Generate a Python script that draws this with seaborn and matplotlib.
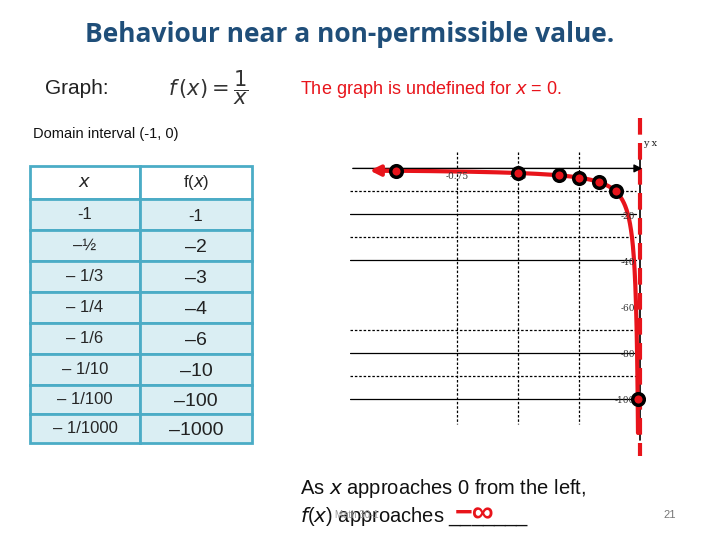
import numpy as np
import pandas as pd
import seaborn as sns
import matplotlib.pyplot as plt
from matplotlib.patches import Rectangle

sns.set_theme(style="white")
plt.rcParams['font.family'] = ['Liberation Sans', 'DejaVu Sans']

x_labels = ["-1", "–½", "– 1/3", "– 1/4", "– 1/6", "– 1/10", "– 1/100", "– 1/1000"]
fx_labels = ["-1", "–2", "–3", "–4", "–6", "–10", "–100", "–1000"]
pt_x = [-1, -1/2, -1/3, -1/4, -1/6, -1/10, -1/100]
pt_y = [-1, -2, -3, -4, -6, -10, -100]
x_ticks = [-1, -0.75, -0.5, -0.25]
y_ticks = [-20, -40, -60, -80, -100]

W, H = 720, 540
fig = plt.figure(figsize=(7.2, 5.4), dpi=100)
fig.patch.set_facecolor("white")

def fx(px): return px / W
def fy(py): return 1 - py / H

fig.text(fx(350), fy(35), "Behaviour near a non-permissible value.", ha="center", va="center",
         fontsize=19, color="#1F4E79", fontweight="bold", family=["Open Sans", "DejaVu Sans"])
fig.text(fx(45), fy(88), "Graph:", ha="left", va="center", fontsize=15, color="#222222")
fig.text(fx(168), fy(88), r"$f\,(x) = \dfrac{1}{x}$", ha="left", va="center", fontsize=15, color="#333333")
fig.text(fx(300), fy(90), "The graph is undefined for $\\it{x}$ = 0.", ha="left", va="center",
         fontsize=13, color="#E8141B")
fig.text(fx(33), fy(134), "Domain interval (-1, 0)", ha="left", va="center", fontsize=10.5, color="#111111")
fig.text(fx(300), fy(488), "As $\\it{x}$ approaches 0 from the left,", ha="left", va="center", fontsize=14.5, color="#111111")
fig.text(fx(300), fy(517), "$\\it{f}$($\\it{x}$) approaches _______", ha="left", va="center", fontsize=14.5, color="#111111")
fig.text(fx(455), fy(514), "−∞", ha="left", va="center", fontsize=22, color="#E8141B", fontweight="bold")
fig.text(fx(335), fy(515), "Math 30-1", ha="left", va="center", fontsize=7, color="#999999")
fig.text(fx(670), fy(515), "21", ha="center", va="center", fontsize=8, color="#777777")

# table
tab = fig.add_axes([0, 0, 1, 1])
tab.set_xlim(0, W); tab.set_ylim(H, 0); tab.axis("off")
rows = [166, 199, 230, 261, 292, 323, 354, 385, 414, 443]
cols = [30, 140, 252]
for i in range(len(rows) - 1):
    for j in range(2):
        fc = "white" if i == 0 else "#DAEEF3"
        tab.add_patch(Rectangle((cols[j], rows[i]), cols[j+1]-cols[j], rows[i+1]-rows[i],
                                facecolor=fc, edgecolor="#4BACC6", lw=2))
    yc = (rows[i] + rows[i+1]) / 2
    if i == 0:
        tab.text(85, yc, "$\\it{x}$", ha="center", va="center", fontsize=13)
        tab.text(196, yc, "f($\\it{x}$)", ha="center", va="center", fontsize=12)
    else:
        tab.text(85, yc, x_labels[i-1], ha="center", va="center", fontsize=12)
        tab.text(196, yc + 2, fx_labels[i-1], ha="center", va="center",
                 fontsize=14 if i > 1 else 12, color="#222222")

# graph
L, R, T, B = 350, 645, 150, 440
ax = fig.add_axes([fx(L), fy(B), (R - L) / W, (B - T) / H])
ax.set_xlim(-1.19, 0.02); ax.set_ylim(-118, 8)
ax.axis("off")
for v in [-20, -40, -80, -100]:
    ax.axhline(v, color="black", lw=0.9, xmin=0, xmax=0.97)
for v in [-10, -30, -70, -90]:
    ax.axhline(v, color="black", lw=0.9, ls=(0, (2, 1.5)), xmin=0, xmax=0.97)
for v in x_ticks[1:]:
    ax.plot([v, v], [7, -111], color="black", lw=0.9, ls=(0, (2, 1.5)))
ax.annotate("", xy=(0.02, 0), xytext=(-1.19, 0),
            arrowprops=dict(arrowstyle="-|>", color="black", lw=1))
ax.plot([0, 0], [7, -118], color="black", lw=1.2, clip_on=False)
for v, lab in zip(x_ticks, ["-1", "-0.75", "-0.5", ""]):
    ax.text(v, -1.5, lab, ha="center", va="top", fontsize=6.5, family="DejaVu Serif", color="#333333")
for v in y_ticks:
    ax.text(-0.02, v - 1, str(v), ha="right", va="center", fontsize=6.5, family="DejaVu Serif", color="#333333")
ax.text(0.01, 11, "y x", ha="left", va="center", fontsize=7, family="DejaVu Serif", clip_on=False)

cx = -np.geomspace(1.08, 0.0087, 300)
sns.lineplot(x=cx, y=1 / cx, sort=False, color="#E8141B", lw=3, ax=ax, estimator=None)
ax.annotate("", xy=(-1.12, -0.9), xytext=(-1.0, -1),
            arrowprops=dict(arrowstyle="-|>", color="#E8141B", lw=3, mutation_scale=15))
ax.plot([0, 0], [22, -125], color="#E8141B", lw=3, ls=(0, (4, 2)), clip_on=False)
sns.scatterplot(x=pt_x, y=pt_y, s=70, color="#E8141B", edgecolor="black", linewidth=2.5, ax=ax, zorder=5)
ax.set_xlabel(""); ax.set_ylabel("")

fig.savefig("out.png", dpi=100)
